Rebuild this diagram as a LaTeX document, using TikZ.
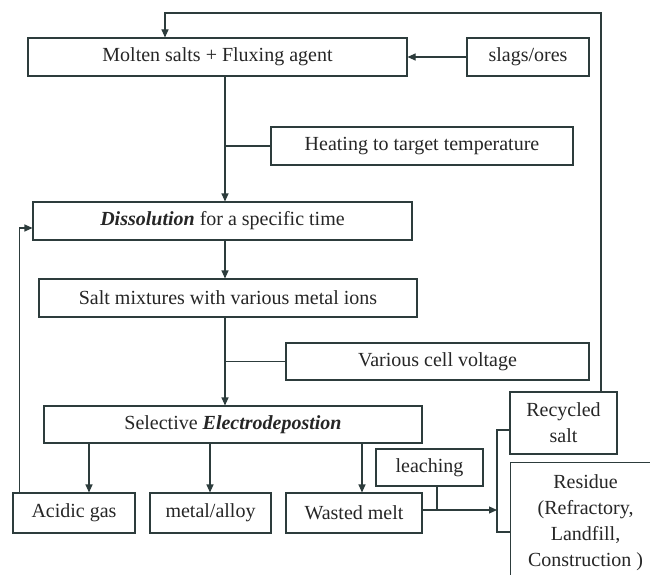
\documentclass[tikz,border=0pt]{standalone}
\usepackage{fontspec}
\setmainfont{Liberation Serif}
\usetikzlibrary{arrows.meta}
\definecolor{linec}{RGB}{45,60,60}
\begin{document}
\begin{tikzpicture}[x=1pt, y=-1pt,
    box/.style={draw=linec, line width=1.1pt, inner sep=0pt, minimum height=38pt,
      text=black!85, font=\fontsize{20}{26}\selectfont, align=center},
    conn/.style={draw=linec, line width=1.1pt},
    arr/.style={conn, -{Triangle[length=8pt,width=7pt]}}]
    \clip (0,0) rectangle (650,575);
    \fill[white] (0,0) rectangle (650,575);
    % boxes
    \node[box, minimum width=379pt] (molten) at (217.5,57) {Molten salts + Fluxing agent};
    \node[box, minimum width=122pt] (slags) at (528,57) {slags/ores};
    \node[box, minimum width=302pt] (heat) at (422,146) {Heating to target temperature};
    \node[box, minimum width=379pt] (diss) at (222.5,221) {\textbf{\textit{Dissolution}} for a specific time};
    \node[box, minimum width=378pt] (salt) at (228,298) {Salt mixtures with various metal ions};
    \node[box, minimum width=303pt, minimum height=37pt] (volt) at (437.5,361.5) {Various cell voltage};
    \node[box, minimum width=378pt, minimum height=37pt] (elec) at (233,424.5) {Selective \textbf{\textit{Electrodepostion}}};
    \node[box, minimum width=122pt, minimum height=40pt] (acid) at (74,513) {Acidic gas};
    \node[box, minimum width=121pt, minimum height=40pt] (metal) at (210.5,513) {metal/alloy};
    \node[box, minimum width=136pt, minimum height=40pt] (waste) at (354,513) {Wasted melt};
    \node[box, minimum width=107pt, minimum height=37pt] (leach) at (429.5,467.5) {leaching};
    \node[box, minimum width=107pt, minimum height=62pt] (recyc) at (563.5,423) {Recycled\\salt};
    \node[box, minimum width=150pt, minimum height=140pt, anchor=north west] (resid) at (510,462)
      {\\[0pt]Residue\\(Refractory,\\Landfill,\\Construction )\\[20pt]};
    % helper points
    \coordinate (spine) at (225,0);
    \coordinate (loopR) at (601,13);
    \coordinate (loopL) at (165,13);
    \coordinate (brk) at (497,510);
    % main line
    \draw[arr] (molten.south -| spine) -- (diss.north -| spine);
    \draw[conn] (spine |- heat.west) -- (heat.west);
    \draw[arr] (diss.south -| spine) -- (salt.north -| spine);
    \draw[arr] (salt.south -| spine) -- (elec.north -| spine);
    \draw[conn] (spine |- volt.west) -- (volt.west);
    \draw[arr] (slags.west) -- (molten.east);
    % products
    \foreach \n/\xx in {acid/89, metal/210, waste/362}
      \draw[arr] (elec.south -| \xx,0) -- (\n.north -| \xx,0);
    % loops back
    \draw[arr] ([xshift=7pt]acid.north west) |- ([yshift=-7pt]diss.west);
    \draw[arr] (loopR |- recyc.north) -- (loopR) -- (loopL) -- (loopL |- molten.north);
    % wasted melt split
    \draw[arr] (waste.east |- brk) -- (brk);
    \draw[conn] (leach.south -| 437,0) -- (437,510);
    \draw[conn] ([yshift=-7pt]recyc.west) -| (brk) |- (resid.west |- 0,532);
\end{tikzpicture}
\end{document}
